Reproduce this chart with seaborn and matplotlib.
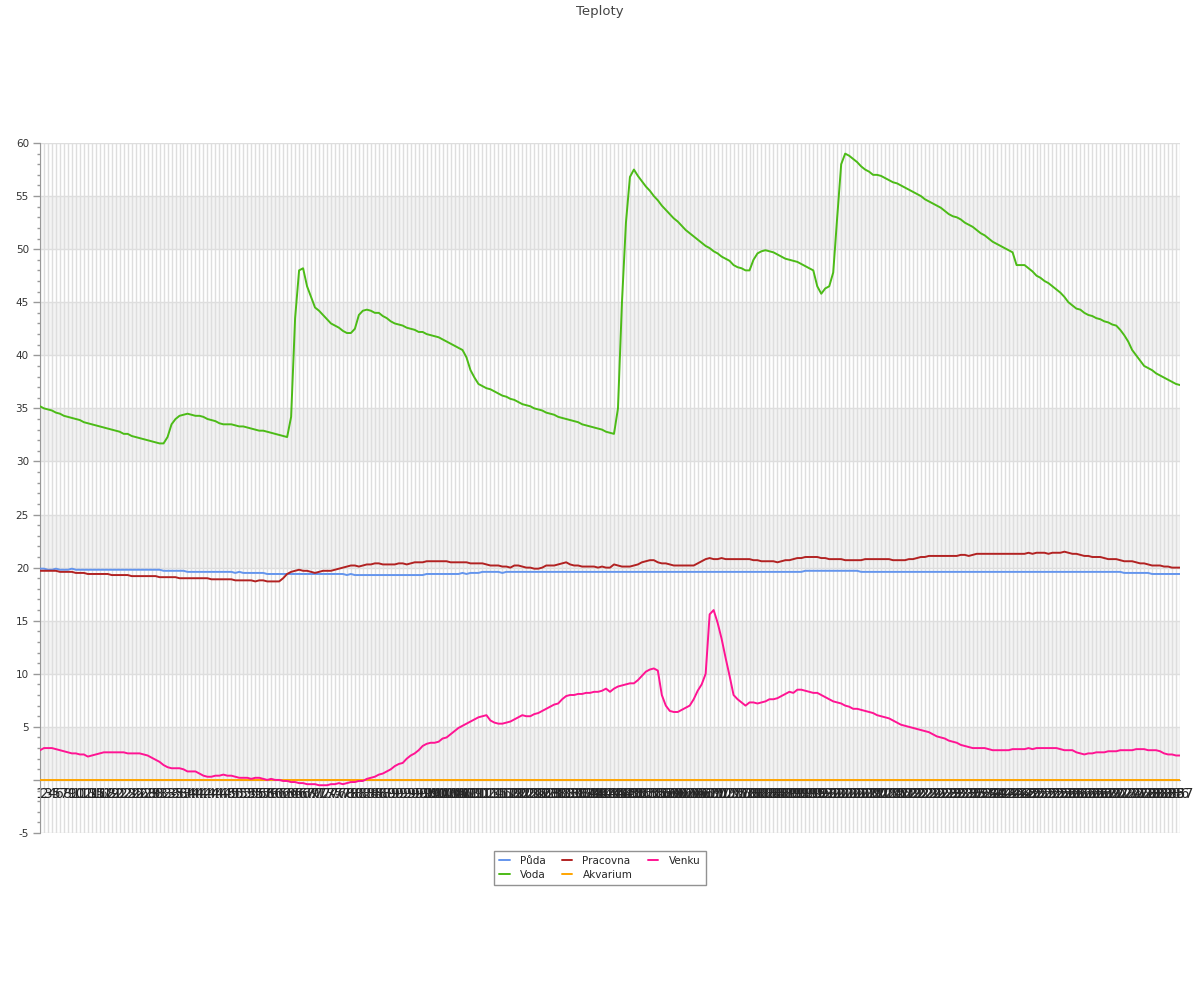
import matplotlib.pyplot as plt
import pandas as pd
import seaborn as sns
from matplotlib.ticker import FuncFormatter, MultipleLocator

# Data (287 samples per sensor)
puda = [
    19.9, 19.9, 19.8, 19.8, 19.9, 19.8, 19.8, 19.8, 19.9, 19.8,
    19.8, 19.8, 19.8, 19.8, 19.8, 19.8, 19.8, 19.8, 19.8, 19.8,
    19.8, 19.8, 19.8, 19.8, 19.8, 19.8, 19.8, 19.8, 19.8, 19.8,
    19.8, 19.7, 19.7, 19.7, 19.7, 19.7, 19.7, 19.6, 19.6, 19.6,
    19.6, 19.6, 19.6, 19.6, 19.6, 19.6, 19.6, 19.6, 19.6, 19.5,
    19.6, 19.5, 19.5, 19.5, 19.5, 19.5, 19.5, 19.4, 19.4, 19.4,
    19.4, 19.4, 19.4, 19.4, 19.4, 19.4, 19.4, 19.4, 19.4, 19.4,
    19.4, 19.4, 19.4, 19.4, 19.4, 19.4, 19.4, 19.3, 19.4, 19.3,
    19.3, 19.3, 19.3, 19.3, 19.3, 19.3, 19.3, 19.3, 19.3, 19.3,
    19.3, 19.3, 19.3, 19.3, 19.3, 19.3, 19.3, 19.4, 19.4, 19.4,
    19.4, 19.4, 19.4, 19.4, 19.4, 19.4, 19.5, 19.4, 19.5, 19.5,
    19.5, 19.6, 19.6, 19.6, 19.6, 19.6, 19.5, 19.6, 19.6, 19.6,
    19.6, 19.6, 19.6, 19.6, 19.6, 19.6, 19.6, 19.6, 19.6, 19.6,
    19.6, 19.6, 19.6, 19.6, 19.6, 19.6, 19.6, 19.6, 19.6, 19.6,
    19.6, 19.6, 19.6, 19.6, 19.6, 19.6, 19.6, 19.6, 19.6, 19.6,
    19.6, 19.6, 19.6, 19.6, 19.6, 19.6, 19.6, 19.6, 19.6, 19.6,
    19.6, 19.6, 19.6, 19.6, 19.6, 19.6, 19.6, 19.6, 19.6, 19.6,
    19.6, 19.6, 19.6, 19.6, 19.6, 19.6, 19.6, 19.6, 19.6, 19.6,
    19.6, 19.6, 19.6, 19.6, 19.6, 19.6, 19.6, 19.6, 19.6, 19.6,
    19.6, 19.6, 19.7, 19.7, 19.7, 19.7, 19.7, 19.7, 19.7, 19.7,
    19.7, 19.7, 19.7, 19.7, 19.7, 19.7, 19.6, 19.6, 19.6, 19.6,
    19.6, 19.6, 19.6, 19.6, 19.6, 19.6, 19.6, 19.6, 19.6, 19.6,
    19.6, 19.6, 19.6, 19.6, 19.6, 19.6, 19.6, 19.6, 19.6, 19.6,
    19.6, 19.6, 19.6, 19.6, 19.6, 19.6, 19.6, 19.6, 19.6, 19.6,
    19.6, 19.6, 19.6, 19.6, 19.6, 19.6, 19.6, 19.6, 19.6, 19.6,
    19.6, 19.6, 19.6, 19.6, 19.6, 19.6, 19.6, 19.6, 19.6, 19.6,
    19.6, 19.6, 19.6, 19.6, 19.6, 19.6, 19.6, 19.6, 19.6, 19.6,
    19.6, 19.6, 19.5, 19.5, 19.5, 19.5, 19.5, 19.5, 19.5, 19.4,
    19.4, 19.4, 19.4, 19.4, 19.4, 19.4, 19.4,
]

voda = [
    35.2, 35.0, 34.9, 34.8, 34.6, 34.5, 34.3, 34.2, 34.1, 34.0,
    33.9, 33.7, 33.6, 33.5, 33.4, 33.3, 33.2, 33.1, 33.0, 32.9,
    32.8, 32.6, 32.6, 32.4, 32.3, 32.2, 32.1, 32.0, 31.9, 31.8,
    31.7, 31.7, 32.3, 33.5, 34.0, 34.3, 34.4, 34.5, 34.4, 34.3,
    34.3, 34.2, 34.0, 33.9, 33.8, 33.6, 33.5, 33.5, 33.5, 33.4,
    33.3, 33.3, 33.2, 33.1, 33.0, 32.9, 32.9, 32.8, 32.7, 32.6,
    32.5, 32.4, 32.3, 34.2, 43.5, 48.0, 48.2, 46.5, 45.5, 44.5,
    44.2, 43.8, 43.4, 43.0, 42.8, 42.6, 42.3, 42.1, 42.1, 42.5,
    43.8, 44.2, 44.3, 44.2, 44.0, 44.0, 43.7, 43.5, 43.2, 43.0,
    42.9, 42.8, 42.6, 42.5, 42.4, 42.2, 42.2, 42.0, 41.9, 41.8,
    41.7, 41.5, 41.3, 41.1, 40.9, 40.7, 40.5, 39.8, 38.6, 37.9,
    37.3, 37.1, 36.9, 36.8, 36.6, 36.4, 36.2, 36.1, 35.9, 35.8,
    35.6, 35.4, 35.3, 35.2, 35.0, 34.9, 34.8, 34.6, 34.5, 34.4,
    34.2, 34.1, 34.0, 33.9, 33.8, 33.7, 33.5, 33.4, 33.3, 33.2,
    33.1, 33.0, 32.8, 32.7, 32.6, 35.0, 45.0, 52.5, 56.8, 57.5,
    56.9, 56.4, 55.9, 55.5, 55.0, 54.6, 54.1, 53.7, 53.3, 52.9,
    52.6, 52.2, 51.8, 51.5, 51.2, 50.9, 50.6, 50.3, 50.1, 49.8,
    49.6, 49.3, 49.1, 48.9, 48.5, 48.3, 48.2, 48.0, 48.0, 49.0,
    49.6, 49.8, 49.9, 49.8, 49.7, 49.5, 49.3, 49.1, 49.0, 48.9,
    48.8, 48.6, 48.4, 48.2, 48.0, 46.5, 45.8, 46.3, 46.5, 47.8,
    53.0, 58.0, 59.0, 58.8, 58.5, 58.2, 57.8, 57.5, 57.3, 57.0,
    57.0, 56.9, 56.7, 56.5, 56.3, 56.2, 56.0, 55.8, 55.6, 55.4,
    55.2, 55.0, 54.7, 54.5, 54.3, 54.1, 53.9, 53.6, 53.3, 53.1,
    53.0, 52.8, 52.5, 52.3, 52.1, 51.8, 51.5, 51.3, 51.0, 50.7,
    50.5, 50.3, 50.1, 49.9, 49.7, 48.5, 48.5, 48.5, 48.2, 47.9,
    47.5, 47.3, 47.0, 46.8, 46.5, 46.2, 45.9, 45.5, 45.0, 44.7,
    44.4, 44.3, 44.0, 43.8, 43.7, 43.5, 43.4, 43.2, 43.1, 42.9,
    42.8, 42.4, 41.9, 41.3, 40.5, 40.0, 39.5, 39.0, 38.8, 38.6,
    38.3, 38.1, 37.9, 37.7, 37.5, 37.3, 37.2,
]

pracovna = [
    19.7, 19.7, 19.7, 19.7, 19.7, 19.6, 19.6, 19.6, 19.6, 19.5,
    19.5, 19.5, 19.4, 19.4, 19.4, 19.4, 19.4, 19.4, 19.3, 19.3,
    19.3, 19.3, 19.3, 19.2, 19.2, 19.2, 19.2, 19.2, 19.2, 19.2,
    19.1, 19.1, 19.1, 19.1, 19.1, 19.0, 19.0, 19.0, 19.0, 19.0,
    19.0, 19.0, 19.0, 18.9, 18.9, 18.9, 18.9, 18.9, 18.9, 18.8,
    18.8, 18.8, 18.8, 18.8, 18.7, 18.8, 18.8, 18.7, 18.7, 18.7,
    18.7, 19.0, 19.4, 19.6, 19.7, 19.8, 19.7, 19.7, 19.6, 19.5,
    19.6, 19.7, 19.7, 19.7, 19.8, 19.9, 20.0, 20.1, 20.2, 20.2,
    20.1, 20.2, 20.3, 20.3, 20.4, 20.4, 20.3, 20.3, 20.3, 20.3,
    20.4, 20.4, 20.3, 20.4, 20.5, 20.5, 20.5, 20.6, 20.6, 20.6,
    20.6, 20.6, 20.6, 20.5, 20.5, 20.5, 20.5, 20.5, 20.4, 20.4,
    20.4, 20.4, 20.3, 20.2, 20.2, 20.2, 20.1, 20.1, 20.0, 20.2,
    20.2, 20.1, 20.0, 20.0, 19.9, 19.9, 20.0, 20.2, 20.2, 20.2,
    20.3, 20.4, 20.5, 20.3, 20.2, 20.2, 20.1, 20.1, 20.1, 20.1,
    20.0, 20.1, 20.0, 20.0, 20.3, 20.2, 20.1, 20.1, 20.1, 20.2,
    20.3, 20.5, 20.6, 20.7, 20.7, 20.5, 20.4, 20.4, 20.3, 20.2,
    20.2, 20.2, 20.2, 20.2, 20.2, 20.4, 20.6, 20.8, 20.9, 20.8,
    20.8, 20.9, 20.8, 20.8, 20.8, 20.8, 20.8, 20.8, 20.8, 20.7,
    20.7, 20.6, 20.6, 20.6, 20.6, 20.5, 20.6, 20.7, 20.7, 20.8,
    20.9, 20.9, 21.0, 21.0, 21.0, 21.0, 20.9, 20.9, 20.8, 20.8,
    20.8, 20.8, 20.7, 20.7, 20.7, 20.7, 20.7, 20.8, 20.8, 20.8,
    20.8, 20.8, 20.8, 20.8, 20.7, 20.7, 20.7, 20.7, 20.8, 20.8,
    20.9, 21.0, 21.0, 21.1, 21.1, 21.1, 21.1, 21.1, 21.1, 21.1,
    21.1, 21.2, 21.2, 21.1, 21.2, 21.3, 21.3, 21.3, 21.3, 21.3,
    21.3, 21.3, 21.3, 21.3, 21.3, 21.3, 21.3, 21.3, 21.4, 21.3,
    21.4, 21.4, 21.4, 21.3, 21.4, 21.4, 21.4, 21.5, 21.4, 21.3,
    21.3, 21.2, 21.1, 21.1, 21.0, 21.0, 21.0, 20.9, 20.8, 20.8,
    20.8, 20.7, 20.6, 20.6, 20.6, 20.5, 20.4, 20.4, 20.3, 20.2,
    20.2, 20.2, 20.1, 20.1, 20.0, 20.0, 20.0,
]

akvarium = [0.0] * 287

venku = [
    2.8, 3.0, 3.0, 3.0, 2.9, 2.8, 2.7, 2.6, 2.5, 2.5,
    2.4, 2.4, 2.2, 2.3, 2.4, 2.5, 2.6, 2.6, 2.6, 2.6,
    2.6, 2.6, 2.5, 2.5, 2.5, 2.5, 2.4, 2.3, 2.1, 1.9,
    1.7, 1.4, 1.2, 1.1, 1.1, 1.1, 1.0, 0.8, 0.8, 0.8,
    0.6, 0.4, 0.3, 0.3, 0.4, 0.4, 0.5, 0.4, 0.4, 0.3,
    0.2, 0.2, 0.2, 0.1, 0.2, 0.2, 0.1, 0.0, 0.1, 0.0,
    0.0, -0.1, -0.1, -0.2, -0.2, -0.3, -0.3, -0.4, -0.4, -0.4,
    -0.5, -0.5, -0.5, -0.4, -0.4, -0.3, -0.4, -0.3, -0.2, -0.2,
    -0.1, -0.1, 0.1, 0.2, 0.3, 0.5, 0.6, 0.8, 1.0, 1.3,
    1.5, 1.6, 2.0, 2.3, 2.5, 2.8, 3.2, 3.4, 3.5, 3.5,
    3.6, 3.9, 4.0, 4.3, 4.6, 4.9, 5.1, 5.3, 5.5, 5.7,
    5.9, 6.0, 6.1, 5.6, 5.4, 5.3, 5.3, 5.4, 5.5, 5.7,
    5.9, 6.1, 6.0, 6.0, 6.2, 6.3, 6.5, 6.7, 6.9, 7.1,
    7.2, 7.6, 7.9, 8.0, 8.0, 8.1, 8.1, 8.2, 8.2, 8.3,
    8.3, 8.4, 8.6, 8.3, 8.6, 8.8, 8.9, 9.0, 9.1, 9.1,
    9.4, 9.8, 10.2, 10.4, 10.5, 10.3, 8.0, 7.0, 6.5, 6.4,
    6.4, 6.6, 6.8, 7.0, 7.6, 8.4, 9.0, 10.0, 15.6, 16.0,
    14.8, 13.3, 11.5, 9.8, 8.0, 7.6, 7.3, 7.0, 7.3, 7.3,
    7.2, 7.3, 7.4, 7.6, 7.6, 7.7, 7.9, 8.1, 8.3, 8.2,
    8.5, 8.5, 8.4, 8.3, 8.2, 8.2, 8.0, 7.8, 7.6, 7.4,
    7.3, 7.2, 7.0, 6.9, 6.7, 6.7, 6.6, 6.5, 6.4, 6.3,
    6.1, 6.0, 5.9, 5.8, 5.6, 5.4, 5.2, 5.1, 5.0, 4.9,
    4.8, 4.7, 4.6, 4.5, 4.3, 4.1, 4.0, 3.9, 3.7, 3.6,
    3.5, 3.3, 3.2, 3.1, 3.0, 3.0, 3.0, 3.0, 2.9, 2.8,
    2.8, 2.8, 2.8, 2.8, 2.9, 2.9, 2.9, 2.9, 3.0, 2.9,
    3.0, 3.0, 3.0, 3.0, 3.0, 3.0, 2.9, 2.8, 2.8, 2.8,
    2.6, 2.5, 2.4, 2.5, 2.5, 2.6, 2.6, 2.6, 2.7, 2.7,
    2.7, 2.8, 2.8, 2.8, 2.8, 2.9, 2.9, 2.9, 2.8, 2.8,
    2.8, 2.7, 2.5, 2.4, 2.4, 2.3, 2.3,
]

series = {
    "Půda": puda,
    "Voda": voda,
    "Pracovna": pracovna,
    "Akvarium": akvarium,
    "Venku": venku,
}
colors = {
    "Půda": "#6495ed",
    "Voda": "#4cbb17",
    "Pracovna": "#b22222",
    "Akvarium": "#ffa500",
    "Venku": "#ff1493",
}
n = len(voda)
x_labels = [str(i + 1) for i in range(n)]

frames = []
for name, vals in series.items():
    frames.append(pd.DataFrame({"bod": range(n), "teplota": vals, "cidlo": name}))
data = pd.concat(frames, ignore_index=True)

sns.set_style("white")
plt.rcParams["font.family"] = ["DejaVu Sans"]

fig = plt.figure(figsize=(12, 10), dpi=100)
ax = fig.add_axes([40 / 1200, 0.167, 1140 / 1200, 0.690])

# alternating bands
for lo in range(0, 60, 10):
    ax.axhspan(lo, lo + 5, color="#f3f3f3", zorder=0, lw=0)

sns.lineplot(
    data=data,
    x="bod",
    y="teplota",
    hue="cidlo",
    hue_order=list(series.keys()),
    palette=colors,
    linewidth=1.4,
    ax=ax,
    zorder=3,
)

ax.set_xlim(0, n - 1)
ax.set_ylim(-5, 60)
ax.set_xlabel("")
ax.set_ylabel("")

ax.set_xticks(range(n))
ax.set_xticklabels(x_labels, fontsize=5.8, color="#444444")
ax.tick_params(axis="x", length=0, pad=5)
ax.yaxis.set_major_locator(MultipleLocator(5))
ax.yaxis.set_minor_locator(MultipleLocator(1))
ax.yaxis.set_major_formatter(FuncFormatter(lambda v, _: "" if v == 0 else f"{v:g}"))
ax.tick_params(axis="y", which="major", length=5, width=1, color="#999999",
               labelsize=7.5, labelcolor="#333333", pad=3, left=True)
ax.tick_params(axis="y", which="minor", length=2.5, width=1, color="#999999", left=True)

ax.grid(axis="x", color="#dedede", lw=1, zorder=1)
ax.grid(axis="y", which="major", color="#dedede", lw=1, zorder=1)
ax.set_axisbelow(True)

ax.spines["top"].set_visible(False)
ax.spines["right"].set_visible(False)
ax.spines["left"].set_color("#999999")
ax.spines["bottom"].set_position(("data", 0))
ax.spines["bottom"].set_color("#999999")

sns.move_legend(
    ax,
    "center",
    bbox_to_anchor=(0.5, 0.132),
    bbox_transform=fig.transFigure,
    ncol=3,
    title=None,
    frameon=True,
    fancybox=False,
    fontsize=7.5,
    handlelength=1.0,
    handletextpad=1.0,
    columnspacing=1.5,
    borderpad=0.5,
    labelspacing=0.4,
)
leg = ax.get_legend()
leg.get_frame().set_edgecolor("#777777")
leg.get_frame().set_linewidth(1)

fig.text(0.5, 0.989, "Teploty", ha="center", va="center", fontsize=9.5, color="#444444")

fig.savefig("out.png", dpi=100)
